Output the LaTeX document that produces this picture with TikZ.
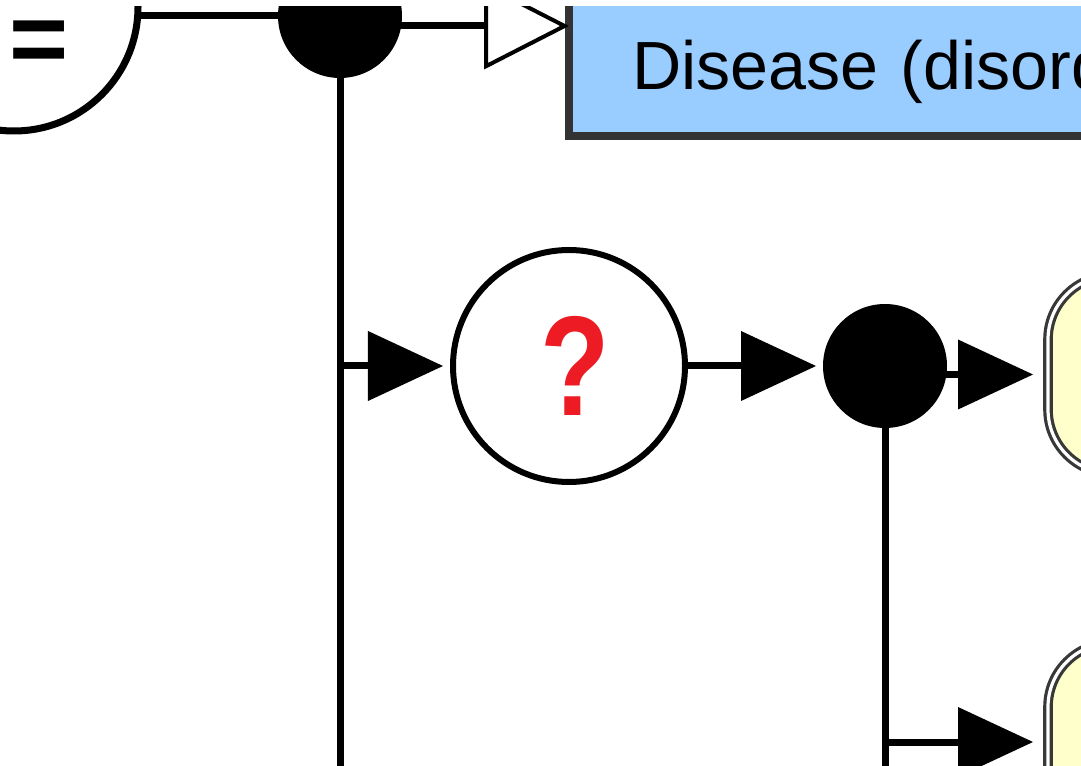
\documentclass[tikz,border=0pt]{standalone}
\usepackage{fontspec}
\usepackage{graphicx}
\setmainfont{Liberation Sans}
\usetikzlibrary{arrows.meta,calc}
\definecolor{boxblue}{HTML}{99CCFF}
\definecolor{boxedge}{HTML}{333333}
\definecolor{qred}{HTML}{ED1C24}
\definecolor{ylw}{HTML}{FFFFCC}
\definecolor{yedge}{HTML}{383838}
\begin{document}
\begin{tikzpicture}[x=0.25mm,y=-0.25mm,
  every node/.style={outer sep=0pt, inner sep=0pt},
  conn/.style={draw=black, line width=1.75mm},
  fillarrow/.style={-{Triangle[length=18.75mm,width=17.5mm,line width=0pt]}},
  openarrow/.style={-{Triangle[open,length=21.25mm,width=21.5mm,line width=1mm]}},
  ring/.style={circle, draw=black, line width=1.75mm, minimum size=62mm},
  dot/.style={circle, fill=black, minimum size=31mm},
  qcircle/.style={circle, draw=black, fill=white, line width=1.5mm, minimum size=58mm},
  bluebox/.style={rectangle, draw=boxedge, fill=boxblue, line width=2mm,
    text height=27.5mm, text depth=11.5mm, inner xsep=15.75mm,
    text width=180mm, align=left, font=\fontsize{48.5}{58}\selectfont},
  ybox/.style={rectangle, rounded corners=16mm, draw=yedge, double=white,
    double distance=0.8mm, line width=0.8mm, fill=ylw,
    minimum width=100mm, minimum height=49.5mm}]
\useasboundingbox (0,0) rectangle (1081,766);
\clip (0,7) rectangle (1081,766);
% nodes
\node[ring] (lc) at (14,7) {};
\node[font=\bfseries\fontsize{72}{80}\selectfont] (eq) at (39,47) {=};
\node[dot] (jn) at (340,16) {};
\node[bluebox, anchor=base west] (box) at (569,90) {Disease (disord};
\node[qcircle] (q) at (569,366) {\hspace*{3mm}\color{qred}\bfseries\fontsize{101}{110}\selectfont\scalebox{0.8}[1]{?}};
\node[dot] (bc) at (885,366) {};
\node[ybox, anchor=west] (y1) at (1048,374.5) {};
\node[ybox, anchor=west] (y2) at (1048,742) {};
\coordinate (bot1) at (340,800);
\coordinate (bot2) at (885,800);
% connectors
\draw[conn] (lc.east |- jn.center) -- (jn.west);
\draw[conn, openarrow] (jn.center) ++(0,10) -- (box.west |- 0,26);
\draw[conn] (jn.south) -- (bot1);
\draw[conn, fillarrow, shorten >=2.5mm] (jn.south |- q.west) -- (q.west);
\draw[conn, fillarrow, shorten >=1.75mm] (q.east) -- (bc.west);
\draw[conn, fillarrow, shorten >=3.75mm] (bc.center |- y1.west) -- (y1.west);
\draw[conn] (bc.south) -- (bot2);
\draw[conn, fillarrow, shorten >=3.75mm] (bc.south |- y2.west) -- (y2.west);
\end{tikzpicture}
\end{document}
